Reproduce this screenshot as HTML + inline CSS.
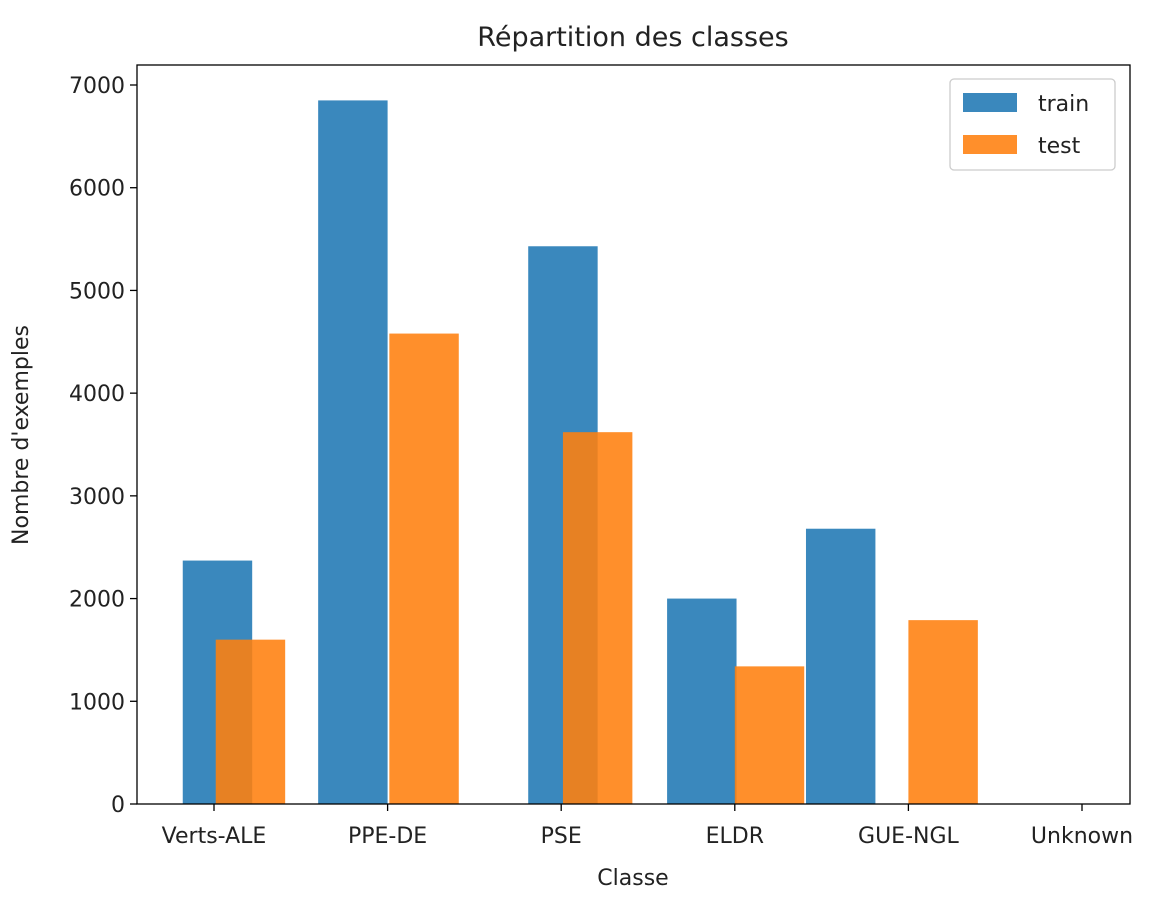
<!DOCTYPE html>
<html><head><meta charset="utf-8"><style>
html,body{margin:0;padding:0;background:#fff}
svg{display:block;font-family:"DejaVu Sans","Liberation Sans",sans-serif}
</style></head><body>
<svg id="chart" width="1156" height="904" viewBox="0 0 1156 904">
<text x="633" y="46" text-anchor="middle" font-size="27" fill="#222">Répartition des classes</text>
<g id="bars"></g>
<g id="axes"></g>
<rect x="137" y="65" width="993" height="739" fill="none" stroke="#000" stroke-width="1.3"/>
<text x="633" y="885" text-anchor="middle" font-size="22" fill="#222">Classe</text>
<text transform="translate(28,435) rotate(-90)" text-anchor="middle" font-size="22" fill="#222">Nombre d'exemples</text>
<g>
<rect x="950" y="79" width="165" height="91" rx="4" fill="#fff" stroke="#ccc" stroke-width="1.3"/>
<rect x="963" y="93" width="54" height="19" fill="#1f77b4" opacity="0.88"/>
<text x="1038" y="111" font-size="22" fill="#222">train</text>
<rect x="963" y="135" width="54" height="19" fill="#ff7f0e" opacity="0.88"/>
<text x="1038" y="153" font-size="22" fill="#222">test</text>
</g>
</svg>
<script>
const categories = ["Verts-ALE","PPE-DE","PSE","ELDR","GUE-NGL","Unknown"];
const trainValues = [2370,6850,5430,2000,2680];
const testValues = [1600,4580,3620,1340,1790];
const trainStart = [-0.18,0.6,1.81,2.61,3.41];
const testStart = [0.01,1.01,2.01,3.0,4.0];
const binWidth = 0.4;
const yTicks = [0,1000,2000,3000,4000,5000,6000,7000];

const NS="http://www.w3.org/2000/svg";
const x = v => 214 + v*173.6;
const y = v => 804 - v*(804-85)/7000;
const bars=document.getElementById('bars'), axes=document.getElementById('axes');
function mk(tag,attrs,parent){const e=document.createElementNS(NS,tag);for(const k in attrs)e.setAttribute(k,attrs[k]);parent.appendChild(e);return e;}
trainValues.forEach((v,i)=>{
  const r=mk('rect',{x:x(trainStart[i]),y:y(v),width:x(trainStart[i]+binWidth)-x(trainStart[i]),height:y(0)-y(v),fill:'#1f77b4',opacity:0.88},bars);
  
  
});
testValues.forEach((v,i)=>{
  const r=mk('rect',{x:x(testStart[i]),y:y(v),width:x(testStart[i]+binWidth)-x(testStart[i]),height:y(0)-y(v),fill:'#ff7f0e',opacity:0.88},bars);
  
  
});
yTicks.forEach(t=>{
  const l=mk('line',{x1:130,x2:137,y1:y(t),y2:y(t),stroke:'#000','stroke-width':1.3},axes);
  
  
  const tx=mk('text',{x:125,y:y(t)+8,'text-anchor':'end','font-size':22,fill:'#222'},axes);
  tx.textContent=t;
  
  
});
categories.forEach((c,i)=>{
  const l=mk('line',{x1:x(i),x2:x(i),y1:804,y2:811,stroke:'#000','stroke-width':1.3},axes);
  
  
  const tx=mk('text',{x:x(i),y:843,'text-anchor':'middle','font-size':22,fill:'#222'},axes);
  tx.textContent=c;
  
  
});
</script>
</body></html>
